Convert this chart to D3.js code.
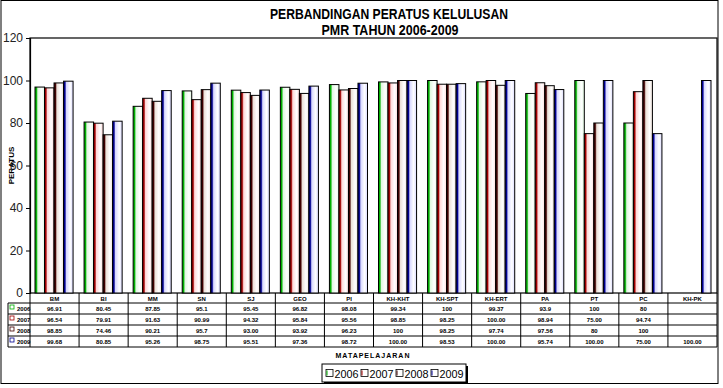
<!DOCTYPE html>
<html>
<head>
<meta charset="utf-8">
<script src="https://cdn.jsdelivr.net/npm/d3@7"></script>
<style>
  body { margin: 0; background: #fff; }
  svg { font-family: "Liberation Sans", Arial, sans-serif; }
</style>
</head>
<body>
<div id="chart"></div>
<script>
const subjects = ["BM", "BI", "MM", "SN", "SJ", "GEO", "PI", "KH-KHT", "KH-SPT", "KH-ERT", "PA", "PT", "PC", "KH-PK"];
const years = ["2006", "2007", "2008", "2009"];
const v2006 = ["96.91", "80.45", "87.85", "95.1", "95.45", "96.82", "98.08", "99.34", "100", "99.37", "93.9", "100", "80", ""];
const v2007 = ["96.54", "79.91", "91.63", "90.99", "94.32", "95.84", "95.56", "98.85", "98.25", "100.00", "98.94", "75.00", "94.74", ""];
const v2008 = ["98.85", "74.46", "90.21", "95.7", "93.00", "93.92", "96.23", "100", "98.25", "97.74", "97.56", "80", "100", ""];
const v2009 = ["99.68", "80.85", "95.26", "98.75", "95.51", "97.36", "98.72", "100.00", "98.53", "100.00", "95.74", "100.00", "75.00", "100.00"];
const yTicks = [0, 20, 40, 60, 80, 100, 120];

const series = [v2006, v2007, v2008, v2009];
const edge = ["#00b000", "#a00000", "#400000", "#000090"];
const mid = ["#e0f8e0", "#ffd8d8", "#ece0d8", "#d8d8ff"];

const W = 723, H = 388;
const plot = {left: 30, right: 717, top: 38, bottom: 293};

const svg = d3.select("#chart").append("svg")
    .attr("width", W).attr("height", H);

// gradients like the old excel fill
const defs = svg.append("defs");
years.forEach((yr, i) => {
  const g = defs.append("linearGradient").attr("id", "g" + i)
      .attr("x1", "0").attr("x2", "1").attr("y1", "0").attr("y2", "0");
  g.append("stop").attr("offset", "0").attr("stop-color", edge[i]);
  g.append("stop").attr("offset", "0.15").attr("stop-color", edge[i]);
  g.append("stop").attr("offset", "0.3").attr("stop-color", mid[i]);
  g.append("stop").attr("offset", "0.7").attr("stop-color", "#fff");
  g.append("stop").attr("offset", "1").attr("stop-color", mid[i]);
});

// outer frame
svg.append("rect").attr("x", 1).attr("y", 0.5).attr("width", 717).attr("height", 383)
    .attr("fill", "none").attr("stroke", "#000").attr("stroke-width", 1);

// title
svg.append("text").attr("x", 389).attr("y", 19).attr("text-anchor", "middle")
    .style("font-size", "14px").style("font-weight", "bold")
    .attr("textLength", 238).attr("lengthAdjust", "spacingAndGlyphs")
    .text("PERBANDINGAN PERATUS KELULUSAN");
svg.append("text").attr("x", 390).attr("y", 35).attr("text-anchor", "middle")
    .style("font-size", "14px").style("font-weight", "bold")
    .attr("textLength", 137).attr("lengthAdjust", "spacingAndGlyphs")
    .text("PMR TAHUN 2006-2009");

const x = d3.scaleBand().domain(subjects).range([plot.left, plot.right]);
const xs = d3.scaleBand().domain(years).range([5, x.bandwidth() - 6]).padding(0);
const y = d3.scaleLinear().domain([0, 120]).range([plot.bottom, plot.top]);

// plot frame
svg.append("rect").attr("x", plot.left).attr("y", plot.top)
    .attr("width", plot.right - plot.left).attr("height", plot.bottom - plot.top)
    .attr("fill", "none").attr("stroke", "#000").attr("stroke-width", 1.2);

// y axis
const yAxis = svg.append("g").attr("transform", `translate(${plot.left},0)`)
    .call(d3.axisLeft(y).tickValues(yTicks).tickSize(4).tickPadding(3));
yAxis.select(".domain").attr("stroke-width", 1.2);
yAxis.selectAll("text").style("font-size", "12px").style("fill", "#222");

svg.append("text").attr("transform", `translate(14,${(plot.top + plot.bottom) / 2}) rotate(-90)`)
    .attr("text-anchor", "middle").style("font-size", "8px").style("font-weight", "bold")
    .text("PERATUS");

// bars
series.forEach((vals, i) => {
  svg.append("g").selectAll("rect")
    .data(vals.map((v, j) => ({s: subjects[j], v: v})).filter(d => d.v !== ""))
    .enter().append("rect")
    .attr("x", d => x(d.s) + xs(years[i]))
    .attr("y", d => y(+d.v))
    .attr("width", xs.bandwidth())
    .attr("height", d => y(0) - y(+d.v))
    .attr("fill", `url(#g${i})`)
    .attr("stroke", "#000").attr("stroke-width", 1);
});

// data table
const rowH = 11, headH = 10;
const tTop = plot.bottom, tLeft = 8;
const tBottom = tTop + headH + rowH * years.length;
const tbl = svg.append("g").attr("stroke", "#000").attr("stroke-width", 1);
tbl.append("line").attr("x1", plot.left).attr("x2", plot.right).attr("y1", tTop + headH).attr("y2", tTop + headH);
tbl.append("line").attr("x1", tLeft).attr("x2", plot.left).attr("y1", tTop + headH).attr("y2", tTop + headH);
years.forEach((yr, i) => {
  const yy = tTop + headH + rowH * (i + 1);
  tbl.append("line").attr("x1", tLeft).attr("x2", plot.right).attr("y1", yy).attr("y2", yy);
});
tbl.append("line").attr("x1", tLeft).attr("x2", tLeft).attr("y1", tTop + headH).attr("y2", tBottom);
tbl.append("line").attr("x1", plot.right).attr("x2", plot.right).attr("y1", tTop).attr("y2", tBottom);
subjects.forEach(s => {
  tbl.append("line").attr("x1", x(s)).attr("x2", x(s)).attr("y1", tTop).attr("y2", tBottom);
});

svg.append("g").selectAll("text").data(subjects).enter().append("text")
    .attr("x", d => x(d) + x.bandwidth() / 2).attr("y", tTop + 8)
    .attr("text-anchor", "middle").style("font-size", "6px").style("font-weight", "bold")
    .text(d => d);

series.forEach((vals, i) => {
  const yy = tTop + headH + rowH * i + 8;
  const row = svg.append("g");
  row.append("rect").attr("x", tLeft + 2).attr("y", yy - 6).attr("width", 4).attr("height", 4)
      .attr("fill", "#fff").attr("stroke", edge[i]).attr("stroke-width", 0.8);
  row.append("text").attr("x", tLeft + 9).attr("y", yy).style("font-size", "6px")
      .style("font-weight", "bold").text(years[i]);
  row.selectAll("text.v").data(vals.map((v, j) => ({s: subjects[j], v: v}))).enter()
      .append("text").attr("class", "v")
      .attr("x", d => x(d.s) + x.bandwidth() / 2).attr("y", yy)
      .attr("text-anchor", "middle").style("font-size", "6px").style("font-weight", "bold")
      .text(d => d.v);
});

// x title
svg.append("text").attr("x", 373).attr("y", 358).attr("text-anchor", "middle")
    .style("font-size", "7px").style("font-weight", "bold").style("letter-spacing", "1px")
    .text("MATAPELAJARAN");

// legend
const leg = svg.append("g").attr("transform", "translate(322,364)");
leg.append("rect").attr("x", 2).attr("y", 2).attr("width", 144).attr("height", 18).attr("fill", "#000");
leg.append("rect").attr("width", 144).attr("height", 18).attr("fill", "#fff")
    .attr("stroke", "#000").attr("stroke-width", 1);
years.forEach((yr, i) => {
  const lx = 4 + i * 35;
  leg.append("rect").attr("x", lx).attr("y", 5.5).attr("width", 7).attr("height", 7)
      .attr("fill", "#fff").attr("stroke", "#000").attr("stroke-width", 0.8);
  leg.append("line").attr("x1", lx + 1).attr("x2", lx + 1).attr("y1", 6.5).attr("y2", 11.5)
      .attr("stroke", edge[i]).attr("stroke-width", 1);
  leg.append("text").attr("x", lx + 8.5).attr("y", 13.5).style("font-size", "10.5px")
      .attr("textLength", 24).attr("lengthAdjust", "spacingAndGlyphs").text(yr);
});
</script>
</body>
</html>
